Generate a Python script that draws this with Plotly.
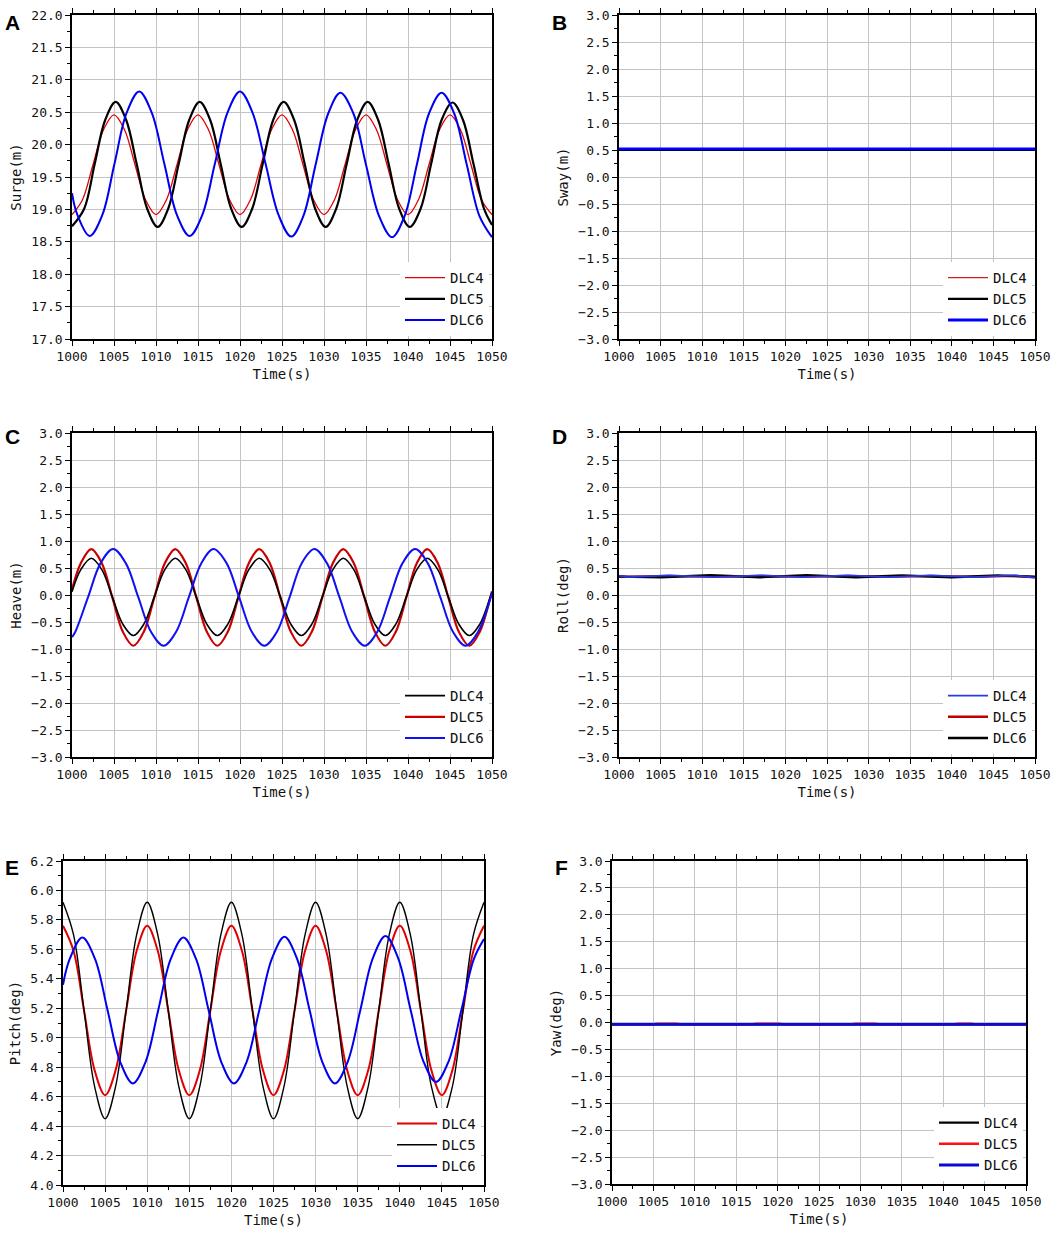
import plotly.graph_objects as go

W, H = 1059, 1233
FONT = "DejaVu Sans Mono"

# shared time grid (1.25 s step) used by the 10-s period series
T_125 = [1000, 1001.25, 1002.5, 1003.75, 1005, 1006.25, 1007.5, 1008.75, 1010, 1011.25,
         1012.5, 1013.75, 1015, 1016.25, 1017.5, 1018.75, 1020, 1021.25, 1022.5, 1023.75,
         1025, 1026.25, 1027.5, 1028.75, 1030, 1031.25, 1032.5, 1033.75, 1035, 1036.25,
         1037.5, 1038.75, 1040, 1041.25, 1042.5, 1043.75, 1045, 1046.25, 1047.5, 1048.75, 1050]

# ---------------- Panel A : Surge(m) ----------------
A_t_dlc4 = T_125
A_dlc4 = [18.92, 19.15, 19.69, 20.23, 20.46, 20.23, 19.69, 19.15,
          18.92, 19.15, 19.69, 20.23, 20.46, 20.23, 19.69, 19.15,
          18.92, 19.15, 19.69, 20.23, 20.46, 20.23, 19.69, 19.15,
          18.92, 19.15, 19.69, 20.23, 20.46, 20.23, 19.69, 19.15,
          18.92, 19.15, 19.69, 20.23, 20.46, 20.23, 19.69, 19.15,
          18.92]
A_t_dlc5 = [1000, 1001.45, 1002.7, 1003.95, 1005.2, 1006.45, 1007.7, 1008.95, 1010.2, 1011.45,
            1012.7, 1013.95, 1015.2, 1016.45, 1017.7, 1018.95, 1020.2, 1021.45, 1022.7, 1023.95,
            1025.2, 1026.45, 1027.7, 1028.95, 1030.2, 1031.45, 1032.7, 1033.95, 1035.2, 1036.45,
            1037.7, 1038.95, 1040.2, 1041.5, 1042.75, 1044.0, 1045.3, 1046.55, 1047.8, 1049.05, 1050]
A_dlc5 = [18.74, 19.01, 19.70, 20.38, 20.66, 20.38, 19.70, 19.01,
          18.73, 19.01, 19.70, 20.38, 20.66, 20.38, 19.70, 19.01,
          18.73, 19.01, 19.70, 20.38, 20.66, 20.38, 19.70, 19.01,
          18.73, 19.01, 19.70, 20.38, 20.66, 20.38, 19.70, 19.01,
          18.73, 19.01, 19.70, 20.38, 20.65, 20.38, 19.70, 19.01,
          18.76]
A_t_dlc6 = [1000, 1000.6, 1002.1, 1003.6, 1005.05, 1006.5, 1008.0, 1009.5, 1011.0, 1012.5,
            1014.0, 1015.5, 1017.0, 1018.5, 1020.0, 1021.5, 1023.05, 1024.6, 1026.1, 1027.55,
            1029.0, 1030.5, 1031.95, 1033.5, 1035.0, 1036.55, 1038.1, 1039.6, 1041.05, 1042.5,
            1044.0, 1045.5, 1047.0, 1048.5, 1050]
A_dlc6 = [19.25, 18.93, 18.59, 18.91, 19.70, 20.49, 20.82, 20.49, 19.70, 18.91,
          18.59, 18.91, 19.70, 20.49, 20.82, 20.49, 19.70, 18.91, 18.58, 18.90,
          19.69, 20.48, 20.80, 20.48, 19.69, 18.90, 18.57, 18.90, 19.69, 20.48,
          20.80, 20.48, 19.69, 18.90, 18.57]

# ---------------- Panel B : Sway(m) ----------------
B_t = [1000, 1050]
B_dlc4 = [0.51, 0.51]
B_dlc5 = [0.50, 0.50]
B_dlc6 = [0.52, 0.52]

# ---------------- Panel C : Heave(m) ----------------
C_t_dlc45 = [1000, 1001.05, 1002.3, 1003.55, 1004.8, 1006.05, 1007.3, 1008.55, 1009.8, 1011.05,
             1012.3, 1013.55, 1014.8, 1016.05, 1017.3, 1018.55, 1019.8, 1021.05, 1022.3, 1023.55,
             1024.8, 1026.05, 1027.3, 1028.55, 1029.8, 1031.05, 1032.3, 1033.55, 1034.8, 1036.05,
             1037.3, 1038.55, 1039.8, 1041.05, 1042.3, 1043.55, 1044.8, 1046.05, 1047.3, 1048.55,
             1049.8, 1050]
C_dlc4 = [0.06,
          0.47, 0.68, 0.47, -0.035, -0.54, -0.75, -0.54, -0.035,
          0.47, 0.68, 0.47, -0.035, -0.54, -0.75, -0.54, -0.035,
          0.47, 0.68, 0.47, -0.035, -0.54, -0.75, -0.54, -0.035,
          0.47, 0.68, 0.47, -0.035, -0.54, -0.75, -0.54, -0.035,
          0.47, 0.68, 0.47, -0.035, -0.54, -0.75, -0.54, -0.035,
          0.05]
C_dlc5 = [0.10,
          0.59, 0.85, 0.59, -0.045, -0.68, -0.94, -0.68, -0.045,
          0.59, 0.85, 0.59, -0.045, -0.68, -0.94, -0.68, -0.045,
          0.59, 0.85, 0.59, -0.045, -0.68, -0.94, -0.68, -0.045,
          0.59, 0.85, 0.59, -0.045, -0.68, -0.94, -0.68, -0.045,
          0.59, 0.85, 0.59, -0.045, -0.68, -0.94, -0.68, -0.045,
          0.07]
C_t_dlc6 = [1000, 1000.4, 1001.9, 1003.4, 1004.9, 1006.4, 1007.9, 1009.4, 1010.9, 1012.4,
            1013.9, 1015.4, 1016.85, 1018.4, 1019.9, 1021.4, 1022.9, 1024.4, 1025.9, 1027.35,
            1028.85, 1030.35, 1031.85, 1033.35, 1034.85, 1036.35, 1037.85, 1039.35, 1040.85, 1042.35,
            1043.85, 1045.35, 1046.85, 1048.35, 1049.85, 1050]
C_dlc6 = [-0.78, -0.68, -0.045, 0.59, 0.85, 0.59, -0.045, -0.68, -0.94, -0.68,
          -0.045, 0.59, 0.85, 0.59, -0.045, -0.68, -0.94, -0.68, -0.045, 0.59,
          0.85, 0.59, -0.045, -0.68, -0.94, -0.68, -0.045, 0.59, 0.85, 0.59,
          -0.045, -0.68, -0.94, -0.68, -0.045, 0.04]

# ---------------- Panel D : Roll(deg) ----------------
D_t_dlc4 = [1000, 1001, 1006, 1011.5, 1017, 1022, 1027.5, 1032.5, 1037.5, 1042.5, 1047.5, 1050]
D_dlc4 = [0.36, 0.33, 0.365, 0.33, 0.365, 0.33, 0.365, 0.33, 0.365, 0.33, 0.365, 0.32]
D_dlc5 = [0.35, 0.335, 0.355, 0.335, 0.355, 0.335, 0.355, 0.335, 0.355, 0.335, 0.355, 0.33]
D_t_dlc6 = [1000, 1005, 1011, 1017, 1022.5, 1028.5, 1034, 1040, 1045.5, 1050]
D_dlc6 = [0.34, 0.33, 0.365, 0.33, 0.365, 0.33, 0.362, 0.33, 0.36, 0.34]

# ---------------- Panel E : Pitch(deg) ----------------
E_t_dlc45 = T_125
E_dlc4 = [5.76, 5.59, 5.185, 4.78, 4.61, 4.78, 5.185, 5.59,
          5.76, 5.59, 5.185, 4.78, 4.61, 4.78, 5.185, 5.59,
          5.76, 5.59, 5.185, 4.78, 4.61, 4.78, 5.185, 5.59,
          5.76, 5.59, 5.185, 4.78, 4.61, 4.78, 5.185, 5.59,
          5.76, 5.59, 5.185, 4.78, 4.61, 4.78, 5.185, 5.59,
          5.76]
E_dlc5 = [5.92, 5.70, 5.185, 4.67, 4.45, 4.67, 5.185, 5.70,
          5.92, 5.70, 5.185, 4.67, 4.45, 4.67, 5.185, 5.70,
          5.92, 5.70, 5.185, 4.67, 4.45, 4.67, 5.185, 5.70,
          5.92, 5.70, 5.185, 4.67, 4.45, 4.67, 5.185, 5.70,
          5.92, 5.70, 5.185, 4.67, 4.46, 4.67, 5.185, 5.70,
          5.92]
E_t_dlc6 = [1000, 1000.8, 1002.3, 1003.8, 1005.3, 1006.8, 1008.3, 1009.8, 1011.3, 1012.8,
            1014.3, 1015.8, 1017.3, 1018.8, 1020.3, 1021.8, 1023.3, 1024.8, 1026.3, 1027.8,
            1029.3, 1030.8, 1032.3, 1033.8, 1035.3, 1036.8, 1038.3, 1039.8, 1041.3, 1042.8,
            1044.3, 1045.8, 1047.3, 1048.8, 1050]
E_dlc6 = [5.36, 5.535, 5.68, 5.535, 5.185, 4.835, 4.69, 4.835, 5.185, 5.535,
          5.68, 5.535, 5.185, 4.835, 4.69, 4.835, 5.185, 5.535, 5.685, 5.535,
          5.185, 4.835, 4.69, 4.835, 5.185, 5.54, 5.69, 5.54, 5.185, 4.84,
          4.70, 4.84, 5.185, 5.535, 5.67]

# ---------------- Panel F : Yaw(deg) ----------------
F_t = [1000, 1050]
F_dlc4 = [-0.035, -0.035]
F_t_dlc5 = [1000, 1004.8, 1005.4, 1007.8, 1008.4, 1016.8, 1017.4, 1020.2, 1020.8, 1028.8, 1029.4,
            1031.8, 1032.4, 1041.2, 1041.8, 1043.4, 1044.0, 1050]
F_dlc5 = [-0.035, -0.035, -0.02, -0.02, -0.035, -0.035, -0.02, -0.02, -0.035, -0.035, -0.02,
          -0.02, -0.035, -0.035, -0.02, -0.02, -0.035, -0.035]
F_dlc6 = [-0.035, -0.035]

LABELS = ["DLC4", "DLC5", "DLC6"]
X_TICKS = [1000, 1005, 1010, 1015, 1020, 1025, 1030, 1035, 1040, 1045, 1050]

# panel geometry in pixels: (left, right, top, bottom)
panels = {
    1: dict(box=(72, 492, 15, 339), yr=(17, 22), dt=0.5, title="Surge(m)", letter="A", lx=12, ly=22),
    2: dict(box=(619, 1035, 15, 339), yr=(-3, 3), dt=0.5, title="Sway(m)", letter="B", lx=559, ly=22),
    3: dict(box=(72, 492, 433, 757), yr=(-3, 3), dt=0.5, title="Heave(m)", letter="C", lx=12, ly=437),
    4: dict(box=(619, 1035, 433, 757), yr=(-3, 3), dt=0.5, title="Roll(deg)", letter="D", lx=559, ly=437),
    5: dict(box=(63, 484, 861, 1185), yr=(4.0, 6.2), dt=0.2, title="Pitch(deg)", letter="E", lx=12, ly=867),
    6: dict(box=(612, 1026, 861, 1184), yr=(-3, 3), dt=0.5, title="Yaw(deg)", letter="F", lx=561, ly=867),
}

fig = go.Figure()


def add(ix, x, y, name, color, width, shape="spline", rank=None):
    sfx = "" if ix == 1 else str(ix)
    fig.add_trace(go.Scatter(
        x=x, y=y, name=name, mode="lines",
        line=dict(color=color, width=width, shape=shape, smoothing=1.0),
        xaxis="x" + sfx, yaxis="y" + sfx, legend="legend" + sfx,
        legendrank=rank if rank is not None else 1000,
        hoverinfo="skip"))


# A
add(1, A_t_dlc4, A_dlc4, LABELS[0], "#e00000", 1.3, rank=1)
add(1, A_t_dlc5, A_dlc5, LABELS[1], "#000000", 2.2, rank=2)
add(1, A_t_dlc6, A_dlc6, LABELS[2], "#0000f0", 2.0, rank=3)
# B
add(2, B_t, B_dlc4, LABELS[0], "#d02020", 1.3, "linear", rank=1)
add(2, B_t, B_dlc5, LABELS[1], "#000000", 2.2, "linear", rank=2)
add(2, B_t, B_dlc6, LABELS[2], "#0000ff", 2.8, "linear", rank=3)
# C
add(3, C_t_dlc45, C_dlc5, LABELS[1], "#c80000", 2.2, rank=2)
add(3, C_t_dlc45, C_dlc4, LABELS[0], "#000000", 1.6, rank=1)
add(3, C_t_dlc6, C_dlc6, LABELS[2], "#1010f0", 2.0, rank=3)
# D
add(4, D_t_dlc4, D_dlc5, LABELS[1], "#c00000", 2.4, "linear", rank=2)
add(4, D_t_dlc6, D_dlc6, LABELS[2], "#000000", 2.4, "linear", rank=3)
add(4, D_t_dlc4, D_dlc4, LABELS[0], "#2a3ae8", 1.8, "linear", rank=1)
# E
add(5, E_t_dlc45, E_dlc4, LABELS[0], "#e00000", 2.0, rank=1)
add(5, E_t_dlc45, E_dlc5, LABELS[1], "#000000", 1.4, rank=2)
add(5, E_t_dlc6, E_dlc6, LABELS[2], "#0000f0", 2.0, rank=3)
# F
add(6, F_t, F_dlc4, LABELS[0], "#000000", 2.4, "linear", rank=1)
add(6, F_t_dlc5, F_dlc5, LABELS[1], "#ff1010", 2.4, "linear", rank=2)
add(6, F_t, F_dlc6, LABELS[2], "#0a0ad8", 2.8, "linear", rank=3)

layout = dict(
    width=W, height=H, autosize=False,
    margin=dict(l=0, r=0, t=0, b=0, autoexpand=False),
    paper_bgcolor="white", plot_bgcolor="white",
    font=dict(family=FONT, size=13, color="#111111"),
    showlegend=True,
)

annotations = []
for ix, p in panels.items():
    sfx = "" if ix == 1 else str(ix)
    l, r, t, b = p["box"]
    xdom = [l / W, r / W]
    ydom = [1 - b / H, 1 - t / H]
    y0, y1 = p["yr"]
    common = dict(
        showline=True, linecolor="black", linewidth=1.5,
        ticks="outside", ticklen=5, tickwidth=1.3, tickcolor="black",
        showgrid=True, gridcolor="#c4c4c4", gridwidth=1,
        zeroline=False, automargin=False,
        tickfont=dict(family=FONT, size=13, color="#111111"),
    )
    layout["xaxis" + sfx] = dict(
        common, domain=xdom, anchor="y" + sfx, range=[1000, 1050],
        tickmode="array", tickvals=X_TICKS, ticktext=[str(v) for v in X_TICKS],
        mirror="ticks",
        minor=dict(dtick=2.5, tick0=1000, ticks="outside", ticklen=3, tickwidth=1.2,
                   tickcolor="black", showgrid=False),
        title=dict(text="Time(s)", font=dict(family=FONT, size=14, color="#111111"), standoff=6),
    )
    layout["yaxis" + sfx] = dict(
        common, domain=ydom, anchor="x" + sfx, range=[y0, y1],
        dtick=p["dt"], tick0=y0, tickformat=".1f",
        mirror=True,
        minor=dict(dtick=p["dt"] / 2, tick0=y0, ticks="outside", ticklen=3, tickwidth=1.2,
                   tickcolor="black", showgrid=False),
        title=dict(text=p["title"], font=dict(family=FONT, size=14, color="#111111"), standoff=6),
    )
    layout["legend" + sfx] = dict(
        x=(r - 3) / W, xanchor="right", y=1 - (b - 3) / H, yanchor="bottom",
        bgcolor="white", borderwidth=0, itemwidth=40,
        font=dict(family=FONT, size=14, color="#111111"),
        tracegroupgap=0, traceorder="normal",
    )
    annotations.append(dict(
        text="<b>%s</b>" % p["letter"], x=p["lx"] / W, y=1 - p["ly"] / H,
        xref="paper", yref="paper", xanchor="center", yanchor="middle",
        showarrow=False, font=dict(family="Liberation Sans", size=21, color="black")))

layout["annotations"] = annotations
fig.update_layout(**layout)
# remove the browser's default 8px page margin so the figure fills the window exactly
fig.write_html("out.html",
               config={"displayModeBar": False},
               post_script="document.body.style.margin='0px';document.body.style.overflow='hidden';")
